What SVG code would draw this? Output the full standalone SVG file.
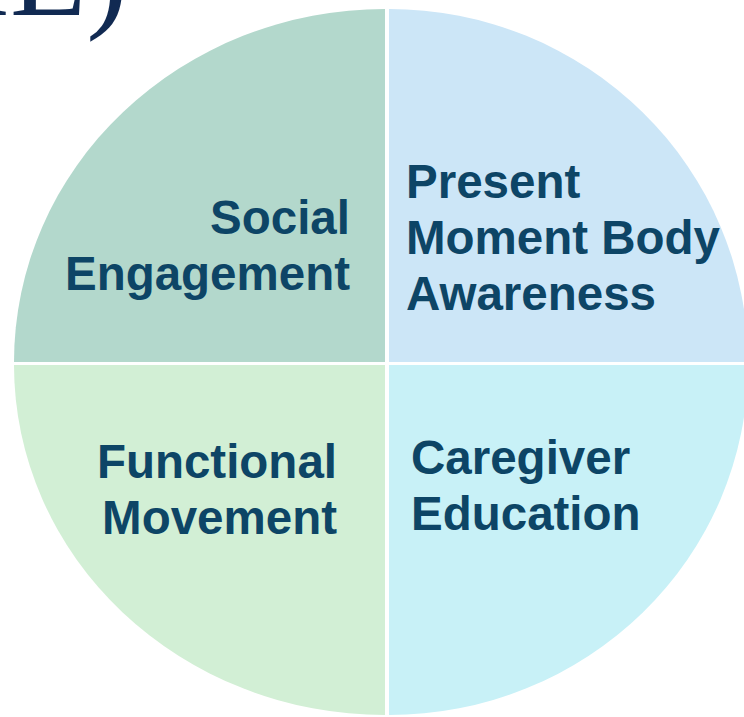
<svg xmlns="http://www.w3.org/2000/svg" width="744" height="717" viewBox="0 0 744 717">
  <style>
    .lbl { font-family: "Liberation Sans", Arial, sans-serif; font-weight: bold; font-size: 47.5px; fill: #0D4566; }
    .title { font-family: "Liberation Serif", "Times New Roman", serif; font-size: 125px; fill: #112A52; }
  </style>
  <rect width="744" height="717" fill="#ffffff"/>
  <!-- title fragment -->
  <text class="title" x="128" y="15" text-anchor="end">IE)</text>
  <!-- quadrants -->
  <g id="social">
    <path d="M385,362 L14,362 A371,353 0 0 1 385,9 Z" fill="#B3D8CC"/>
    <text class="lbl" text-anchor="end"><tspan x="350" y="234">Social</tspan><tspan x="350" y="290">Engagement</tspan></text>
  </g>
  <g id="awareness">
    <path d="M389,362 L389,9 A359,353 0 0 1 748,362 Z" fill="#CCE6F7"/>
    <text class="lbl"><tspan x="406" y="198">Present</tspan><tspan x="406" y="254">Moment Body</tspan><tspan x="406" y="310">Awareness</tspan></text>
  </g>
  <g id="functional">
    <path d="M385,365 L385,715 A371,350 0 0 1 14,365 Z" fill="#D2EFD5"/>
    <text class="lbl" text-anchor="end"><tspan x="337" y="478">Functional</tspan><tspan x="337" y="534">Movement</tspan></text>
  </g>
  <g id="caregiver">
    <path d="M389,365 L748,365 A359,350 0 0 1 389,715 Z" fill="#C8F1F7"/>
    <text class="lbl"><tspan x="411" y="474">Caregiver</tspan><tspan x="411" y="530">Education</tspan></text>
  </g>
  <g id="connectors"/>
</svg>
